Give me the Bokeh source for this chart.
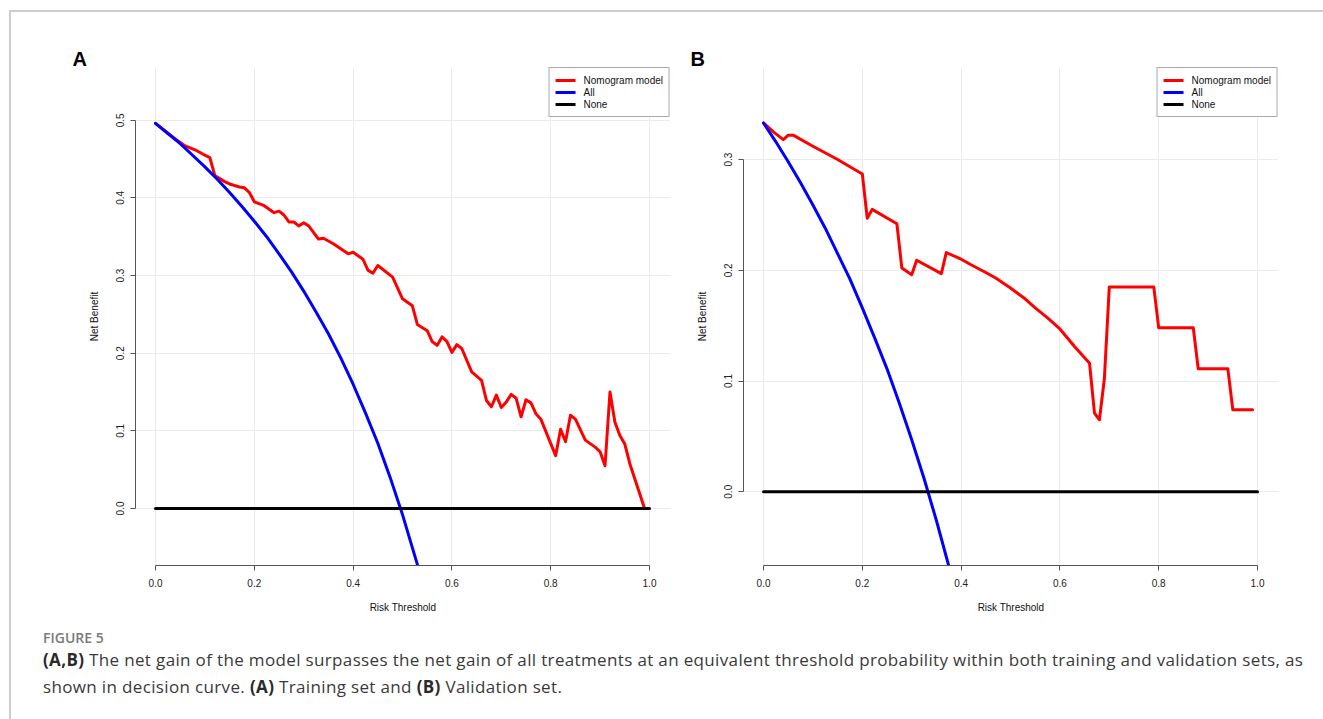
from bokeh.plotting import figure
from bokeh.models import FixedTicker, PrintfTickFormatter, Legend, LegendItem, Div, Range1d
from bokeh.layouts import row, column
from bokeh.embed import file_html
from bokeh.resources import INLINE

# ---------------- data ----------------
x_ticks = [0.0, 0.2, 0.4, 0.6, 0.8, 1.0]
a_y_ticks = [0.0, 0.1, 0.2, 0.3, 0.4, 0.5]
b_y_ticks = [0.0, 0.1, 0.2, 0.3]

# Panel A (training set)
a_nomo_t = [0.00, 0.04, 0.06, 0.08, 0.10, 0.11, 0.12, 0.14, 0.15, 0.17, 0.18, 0.19, 0.20,
            0.22, 0.24, 0.25, 0.26, 0.27, 0.28, 0.29, 0.30, 0.31, 0.33, 0.34, 0.36, 0.39,
            0.40, 0.42, 0.43, 0.44, 0.45, 0.48, 0.50, 0.52, 0.53, 0.55, 0.56, 0.57, 0.58,
            0.59, 0.60, 0.61, 0.62, 0.64, 0.66, 0.67, 0.68, 0.69, 0.70, 0.71, 0.72, 0.73,
            0.74, 0.75, 0.76, 0.77, 0.78, 0.81, 0.82, 0.83, 0.84, 0.85, 0.87, 0.89, 0.90,
            0.91, 0.92, 0.93, 0.94, 0.95, 0.96, 0.99]
a_nomo_nb = [0.496, 0.476, 0.467, 0.462, 0.455, 0.452, 0.429, 0.421, 0.418, 0.414, 0.413, 0.407, 0.395,
             0.390, 0.381, 0.383, 0.378, 0.369, 0.369, 0.364, 0.368, 0.364, 0.347, 0.348, 0.341, 0.328,
             0.330, 0.321, 0.307, 0.303, 0.313, 0.298, 0.270, 0.261, 0.237, 0.229, 0.215, 0.210, 0.221,
             0.215, 0.201, 0.211, 0.206, 0.176, 0.165, 0.139, 0.131, 0.146, 0.130, 0.137, 0.147, 0.142,
             0.118, 0.140, 0.136, 0.122, 0.115, 0.068, 0.102, 0.086, 0.120, 0.115, 0.088, 0.079, 0.073,
             0.055, 0.150, 0.111, 0.094, 0.083, 0.058, 0.000]
a_all_t = [0.00, 0.025, 0.05, 0.075, 0.10, 0.125, 0.15, 0.175, 0.20, 0.225, 0.25, 0.275, 0.30,
           0.325, 0.35, 0.375, 0.40, 0.425, 0.45, 0.475, 0.50, 0.53, 0.54]
a_all_nb = [0.496, 0.483, 0.470, 0.455, 0.440, 0.424, 0.407, 0.389, 0.370, 0.350, 0.328, 0.305, 0.280,
            0.253, 0.225, 0.194, 0.160, 0.123, 0.084, 0.040, -0.008, -0.072, -0.096]
a_none_t = [0.0, 1.0]
a_none_nb = [0.0, 0.0]

# Panel B (validation set)
b_nomo_t = [0.00, 0.02, 0.04, 0.05, 0.06, 0.10, 0.15, 0.20, 0.21, 0.22, 0.27, 0.28, 0.30, 0.31,
            0.36, 0.37, 0.40, 0.42, 0.45, 0.47, 0.50, 0.53, 0.55, 0.575, 0.60, 0.63, 0.66, 0.67,
            0.68, 0.69, 0.70, 0.79, 0.80, 0.87, 0.88, 0.94, 0.95, 0.99]
b_nomo_nb = [0.333, 0.325, 0.318, 0.322, 0.322, 0.312, 0.300, 0.287, 0.247, 0.255, 0.242, 0.202, 0.196, 0.209,
             0.197, 0.216, 0.210, 0.205, 0.198, 0.193, 0.184, 0.174, 0.166, 0.157, 0.147, 0.131, 0.116, 0.071,
             0.065, 0.102, 0.185, 0.185, 0.148, 0.148, 0.111, 0.111, 0.074, 0.074]
b_all_t = [0.00, 0.025, 0.05, 0.075, 0.10, 0.125, 0.15, 0.175, 0.20, 0.225, 0.25, 0.275, 0.30,
           0.325, 0.35, 0.375, 0.39]
b_all_nb = [0.333, 0.316, 0.298, 0.279, 0.259, 0.238, 0.215, 0.192, 0.166, 0.139, 0.111, 0.080, 0.047,
            0.012, -0.026, -0.067, -0.093]
b_none_t = [0.0, 1.0]
b_none_nb = [0.0, 0.0]

series_labels = ["Nomogram model", "All", "None"]
series_colors = ["#ff0000", "#0000ff", "#000000"]

PLOT_FONT = "Liberation Sans"


def panel(letter, width, border_left, border_right, y_range, y_ticks, y_bounds,
          series, title_offset):
    p = figure(width=width, height=608,
               x_range=Range1d(-0.0405, 1.0425), y_range=Range1d(*y_range),
               output_backend="svg", toolbar_location=None,
               min_border_left=border_left, min_border_right=border_right,
               min_border_top=55, min_border_bottom=55)
    p.outline_line_color = None
    p.background_fill_color = "white"
    p.border_fill_color = "white"

    # grid
    p.xgrid.ticker = FixedTicker(ticks=x_ticks)
    p.ygrid.ticker = FixedTicker(ticks=y_ticks)
    p.grid.grid_line_color = "#ebebeb"
    p.grid.grid_line_width = 1

    # axes
    p.xaxis.ticker = FixedTicker(ticks=x_ticks)
    p.yaxis.ticker = FixedTicker(ticks=y_ticks)
    p.xaxis.bounds = (0, 1)
    p.yaxis.bounds = y_bounds
    for ax in (p.xaxis[0], p.yaxis[0]):
        ax.formatter = PrintfTickFormatter(format="%.1f")
        ax.axis_line_color = "#555555"
        ax.axis_line_width = 1
        ax.major_tick_line_color = "#555555"
        ax.major_tick_out = 5
        ax.major_tick_in = 0
        ax.minor_tick_line_color = None
        ax.major_label_text_font = PLOT_FONT
        ax.major_label_text_font_size = "10px"
        ax.major_label_text_color = "#222222"
        ax.axis_label_text_font = PLOT_FONT
        ax.axis_label_text_font_size = "10px"
        ax.axis_label_text_font_style = "normal"
        ax.axis_label_text_color = "#111111"
    p.xaxis.axis_label = "Risk Threshold"
    p.yaxis.axis_label = "Net Benefit"
    p.xaxis.major_label_standoff = 8
    p.xaxis.axis_label_standoff = 12
    p.yaxis.major_label_standoff = 6
    p.yaxis.axis_label_standoff = 14
    p.yaxis.major_label_orientation = "vertical"

    items = []
    for (t, nb), lab, col in zip(series, series_labels, series_colors):
        r = p.line(t, nb, line_color=col, line_width=3, line_join="round", line_cap="round")
        items.append(LegendItem(label=lab, renderers=[r]))

    leg = Legend(items=items, location="top_right", margin=0, padding=6, spacing=0,
                 label_height=12, glyph_height=12, glyph_width=20, label_standoff=8,
                 label_text_font=PLOT_FONT, label_text_font_size="10px",
                 label_text_color="#111111",
                 border_line_color="#555555", border_line_width=1,
                 background_fill_color="white", background_fill_alpha=1.0)
    p.add_layout(leg, "center")

    p.title.text = letter
    p.title.text_font = PLOT_FONT
    p.title.text_font_size = "20px"
    p.title.text_font_style = "bold"
    p.title.text_color = "#000000"
    p.title.align = "left"
    p.title.offset = title_offset
    p.title.standoff = -4
    return p


pA = panel("A", 669, 124, 10, (-0.0735, 0.568), a_y_ticks, (0, 0.5),
           [(a_nomo_t, a_nomo_nb), (a_all_t, a_all_nb), (a_none_t, a_none_nb)], -63)
pB = panel("B", 643, 63, 45, (-0.0666, 0.3831), b_y_ticks, (0, 0.3),
           [(b_nomo_t, b_nomo_nb), (b_all_t, b_all_nb), (b_none_t, b_none_nb)], -53)

cap_style = "position:absolute;left:32px;white-space:nowrap;font-family:'Open Sans',sans-serif;"
caption_html = (
    '<div style="position:relative;width:1312px;height:99px;">'
    '<div style="' + cap_style + 'top:11px;line-height:14px;font-size:14px;font-weight:600;color:#7a7a7a;">FIGURE 5</div>'
    '<div style="' + cap_style + 'top:30px;line-height:20px;font-size:17px;letter-spacing:0.35px;color:#3a3a3a;">'
    '<b style="color:#2a2a2a;">(A,B)</b> The net gain of the model surpasses the net gain of all treatments at an '
    'equivalent threshold probability within both training and validation sets, as</div>'
    '<div style="' + cap_style + 'top:57px;line-height:20px;font-size:17px;letter-spacing:0.35px;color:#3a3a3a;">'
    'shown in decision curve. <b style="color:#2a2a2a;">(A)</b> Training set and '
    '<b style="color:#2a2a2a;">(B)</b> Validation set.</div>'
    '</div>'
)
cap = Div(text=caption_html, width=1312, height=99, margin=0)

layout = column(row(pA, pB), cap,
                styles={"border-top": "2px solid #cccccc", "border-left": "2px solid #cccccc"},
                margin=(10, 0, 0, 9))

open("out.html", "w").write(file_html(layout, INLINE))
